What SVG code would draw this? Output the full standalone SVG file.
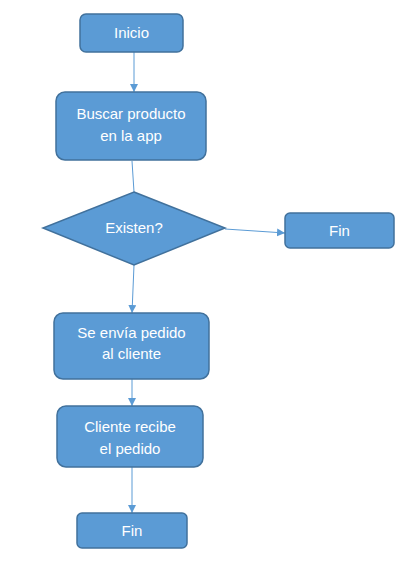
<svg xmlns="http://www.w3.org/2000/svg" width="420" height="579" viewBox="0 0 420 579">
<defs>
<style>
.n{fill:#5B9BD5;stroke:#41719C;stroke-width:1.5}
.t{fill:#fff;font-family:"Liberation Sans",Arial,sans-serif;font-size:15px;text-anchor:middle}
.c{stroke:#5B9BD5;stroke-width:1;fill:none}
</style>
<marker id="a" viewBox="0 0 10 10" refX="10" refY="5" markerWidth="8" markerHeight="8" markerUnits="userSpaceOnUse" orient="auto">
<path d="M0,0L10,5L0,10z" fill="#5B9BD5"/>
</marker>
</defs>
<rect width="420" height="579" fill="#fff"/>
<g id="connectors">
<line class="c" x1="134" y1="52" x2="134" y2="92" marker-end="url(#a)"/>
<line class="c" x1="132" y1="161" x2="134" y2="192"/>
<line class="c" x1="225" y1="229" x2="285" y2="233" marker-end="url(#a)"/>
<line class="c" x1="134" y1="265" x2="132" y2="313" marker-end="url(#a)"/>
<line class="c" x1="132" y1="379" x2="132" y2="406" marker-end="url(#a)"/>
<line class="c" x1="132" y1="467" x2="132" y2="513" marker-end="url(#a)"/>
</g>
<g id="inicio">
<rect class="n" x="80" y="14" width="103" height="38" rx="6"/>
<text class="t" x="131.5" y="38">Inicio</text>
</g>
<g id="buscar">
<rect class="n" x="56" y="92" width="150" height="68" rx="9"/>
<text class="t" x="131" y="119">Buscar producto</text>
<text class="t" x="131" y="141">en la app</text>
</g>
<g id="existen">
<polygon class="n" points="134,192 225,228 134,265 43,228"/>
<text class="t" x="134" y="233">Existen?</text>
</g>
<g id="fin1">
<rect class="n" x="285" y="213" width="109" height="35" rx="5"/>
<text class="t" x="339.5" y="236">Fin</text>
</g>
<g id="envia">
<rect class="n" x="54" y="313" width="155" height="66" rx="9"/>
<text class="t" x="131.5" y="338">Se envía pedido</text>
<text class="t" x="131.5" y="359">al cliente</text>
</g>
<g id="recibe">
<rect class="n" x="57" y="406" width="146" height="61" rx="9"/>
<text class="t" x="130" y="432">Cliente recibe</text>
<text class="t" x="130" y="454">el pedido</text>
</g>
<g id="fin2">
<rect class="n" x="77" y="513" width="110" height="35" rx="5"/>
<text class="t" x="132" y="536">Fin</text>
</g>
</svg>
